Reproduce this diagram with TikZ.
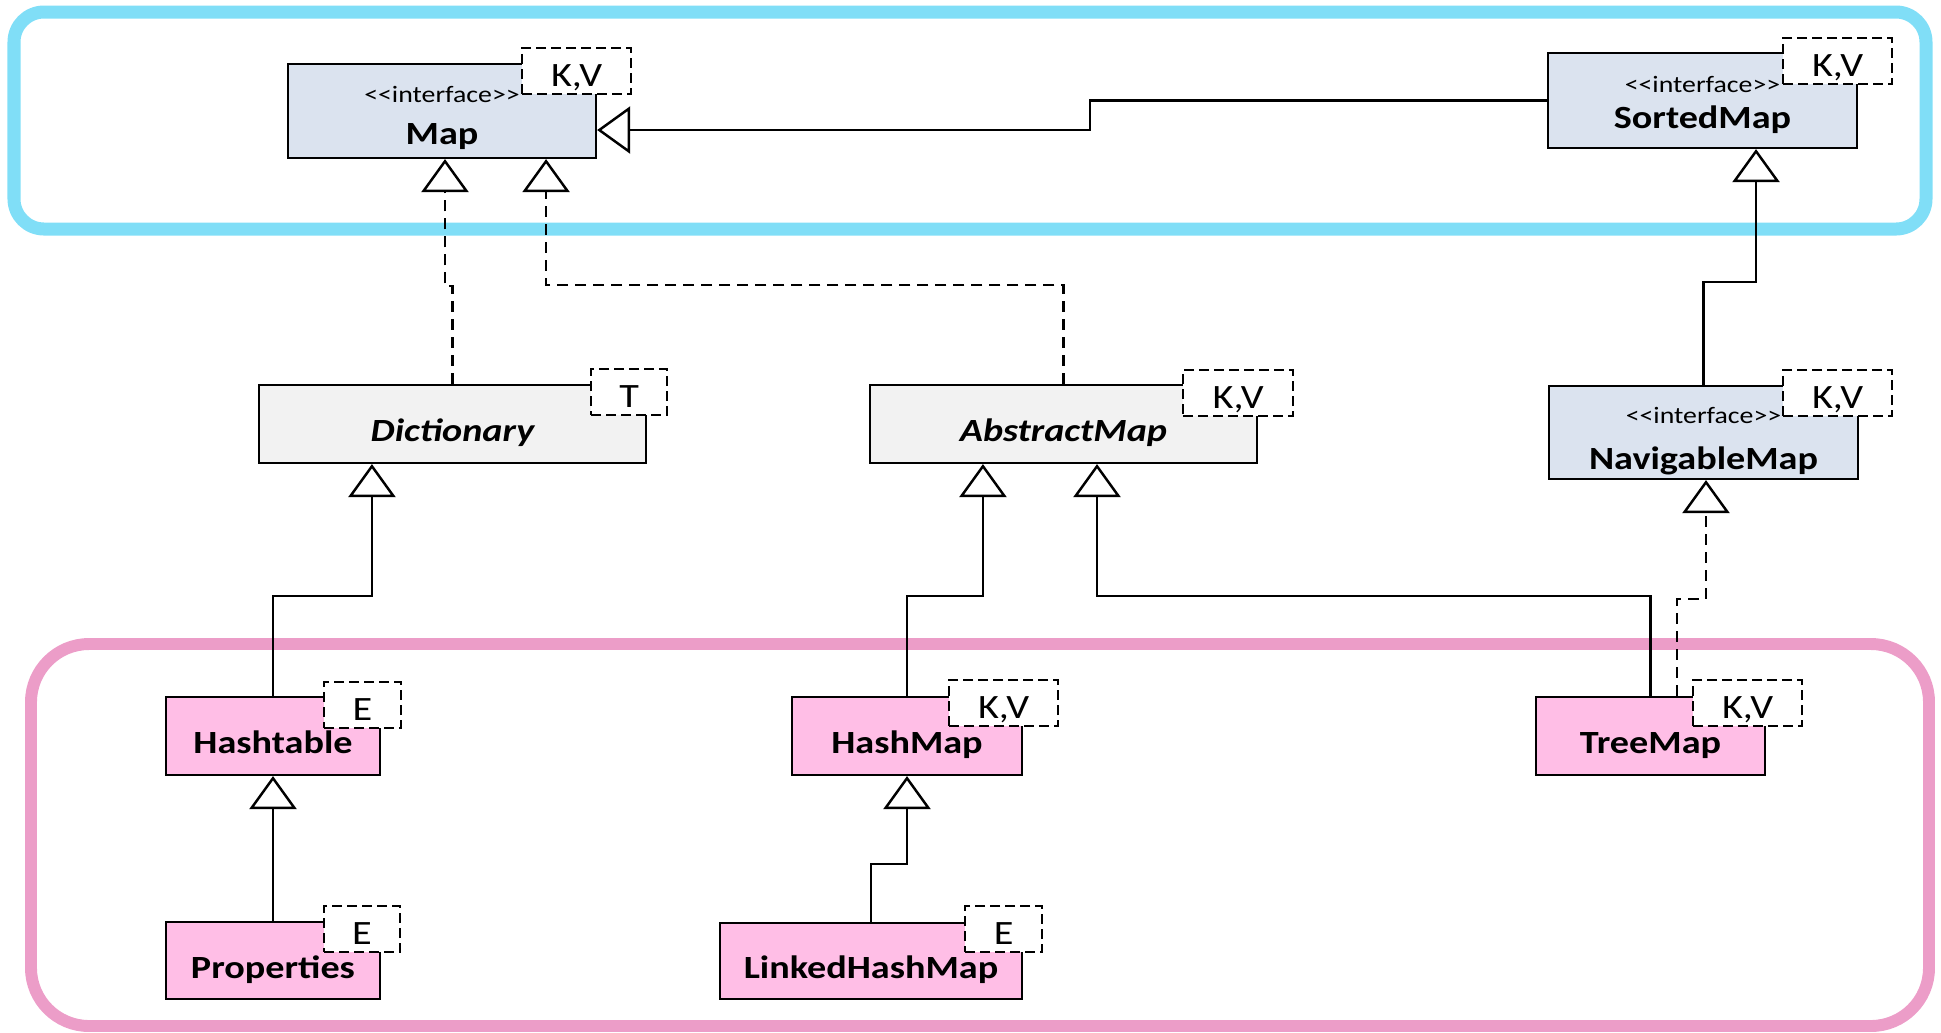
\documentclass[tikz,border=0pt]{standalone}
\usepackage{fontspec}
\setmainfont{Carlito}[Ligatures=TeXOff, FakeStretch=1.18]
\usetikzlibrary{arrows.meta}
\definecolor{frameblue}{RGB}{128,222,247}
\definecolor{framepink}{RGB}{236,157,200}
\definecolor{ifblue}{RGB}{219,227,239}
\definecolor{absgray}{RGB}{242,242,242}
\definecolor{implpink}{RGB}{255,190,230}

\begin{document}
\begin{tikzpicture}[x=0.01cm, y=-0.01cm]
    \tikzstyle{every node}+=[inner sep=0pt]
    \tikzstyle{box}=[draw=black, line width=0.6pt, minimum height=0.78cm, text height=0.35cm, text depth=0cm, font=\fontsize{9.2}{10}\selectfont\bfseries]
    \tikzstyle{iface}=[box, fill=ifblue]
    \tikzstyle{absclass}=[box, fill=absgray, font=\fontsize{9.2}{10}\selectfont\bfseries\itshape]
    \tikzstyle{implclass}=[box, fill=implpink]
    \tikzstyle{tparam}=[draw=black, fill=white, line width=0.6pt, dash pattern=on 0.1cm off 0.05cm, minimum height=0.46cm, text height=0.31cm, text depth=0cm, anchor=north east, font=\fontsize{9.7}{11}\selectfont]
    \tikzstyle{stereo}=[anchor=base, font=\fontsize{6.7}{8}\selectfont]
    \tikzstyle{cname}=[anchor=base, font=\fontsize{9.2}{10}\selectfont\bfseries]
    \tikzstyle{extends}=[line width=0.7pt, -{Triangle[length=0.33cm, width=0.47cm, fill=white]}]
    \tikzstyle{realize}=[extends, dash pattern=on 0.11cm off 0.07cm]
    \useasboundingbox (0,0) rectangle (1941,1032);
    % groups
    \draw [frameblue, line width=3.7pt, rounded corners=0.3cm] (14,12) rectangle (1926,229);
    \draw [framepink, line width=3.4pt, rounded corners=0.58cm] (31,644) rectangle (1929,1026);
    % interfaces
    \draw (442,111) node [iface, minimum width=3.08cm, minimum height=0.94cm] (map) {};
    \draw ([yshift=0.09cm]map.center) node [stereo] {<<interface>>};
    \draw ([yshift=-0.33cm]map.center) node [cname] {Map};
    \draw ([xshift=0.35cm, yshift=0.16cm]map.north east) node [tparam, minimum width=1.09cm] (mapkv) {K,V};
    \draw (1702.5,100.5) node [iface, minimum width=3.09cm, minimum height=0.95cm] (sorted) {};
    \draw ([yshift=0.085cm]sorted.center) node [stereo] {<<interface>>};
    \draw ([yshift=-0.28cm]sorted.center) node [cname] {SortedMap};
    \draw ([xshift=0.35cm, yshift=0.15cm]sorted.north east) node [tparam, minimum width=1.09cm] (sortedkv) {K,V};
    \draw (1703.5,432.5) node [iface, minimum width=3.09cm, minimum height=0.93cm] (nav) {};
    \draw ([yshift=0.095cm]nav.center) node [stereo] {<<interface>>};
    \draw ([yshift=-0.37cm]nav.center) node [cname] {NavigableMap};
    \draw ([xshift=0.34cm, yshift=0.16cm]nav.north east) node [tparam, minimum width=1.09cm] (navkv) {K,V};
    % abstract classes
    \draw (452.5,424) node [absclass, minimum width=3.87cm] (dict) {Dictionary};
    \draw ([xshift=0.21cm, yshift=0.16cm]dict.north east) node [tparam, minimum width=0.76cm] (dictt) {T};
    \draw (1063.5,424) node [absclass, minimum width=3.87cm] (abs) {AbstractMap};
    \draw ([xshift=0.36cm, yshift=0.15cm]abs.north east) node [tparam, minimum width=1.1cm] (abskv) {K,V};
    % implementations
    \draw (273,736) node [implclass, minimum width=2.14cm] (hasht) {Hashtable};
    \draw ([xshift=0.21cm, yshift=0.15cm]hasht.north east) node [tparam, minimum width=0.77cm] (hashte) {E};
    \draw (907,736) node [implclass, minimum width=2.3cm] (hashm) {HashMap};
    \draw ([xshift=0.36cm, yshift=0.17cm]hashm.north east) node [tparam, minimum width=1.09cm] (hashmkv) {K,V};
    \draw (1650.5,736) node [implclass, minimum width=2.29cm] (tree) {TreeMap};
    \draw ([xshift=0.37cm, yshift=0.17cm]tree.north east) node [tparam, minimum width=1.09cm] (treekv) {K,V};
    \draw (273,960.5) node [implclass, minimum width=2.14cm, minimum height=0.77cm] (props) {Properties};
    \draw ([xshift=0.2cm, yshift=0.16cm]props.north east) node [tparam, minimum width=0.76cm] (propse) {E};
    \draw (871,961) node [implclass, minimum width=3.02cm, minimum height=0.76cm] (linked) {LinkedHashMap};
    \draw ([xshift=0.2cm, yshift=0.17cm]linked.north east) node [tparam, minimum width=0.77cm] (linkede) {E};
    % inheritance
    \draw [extends] (sorted.west) -| (1090,115) |- ([yshift=-0.19cm]map.east);
    \draw [realize] (dict.north) -- ++(0,-98) -| ([xshift=0.03cm]map.south);
    \draw [realize] (abs.north) -- ++(0,-99) -| ([xshift=1.04cm]map.south);
    \draw [extends] (nav.north) -- ++(0,-103) -| ([xshift=0.535cm]sorted.south);
    \draw [extends] (hasht.north) -- ++(0,-100) -| ([xshift=-0.805cm]dict.south);
    \draw [extends] (hashm.north) -- ++(0,-100) -| ([xshift=-0.805cm]abs.south);
    \draw [extends] (tree.north) -- ++(0,-100) -| ([xshift=0.335cm]abs.south);
    \draw [realize] ([xshift=0.265cm]tree.north) -- ++(0,-97) -| ([xshift=0.025cm]nav.south);
    \draw [extends] (props.north) -- (hasht.south);
    \draw [extends] (linked.north) -- ++(0,-58) -| (hashm.south);
\end{tikzpicture}
\end{document}
